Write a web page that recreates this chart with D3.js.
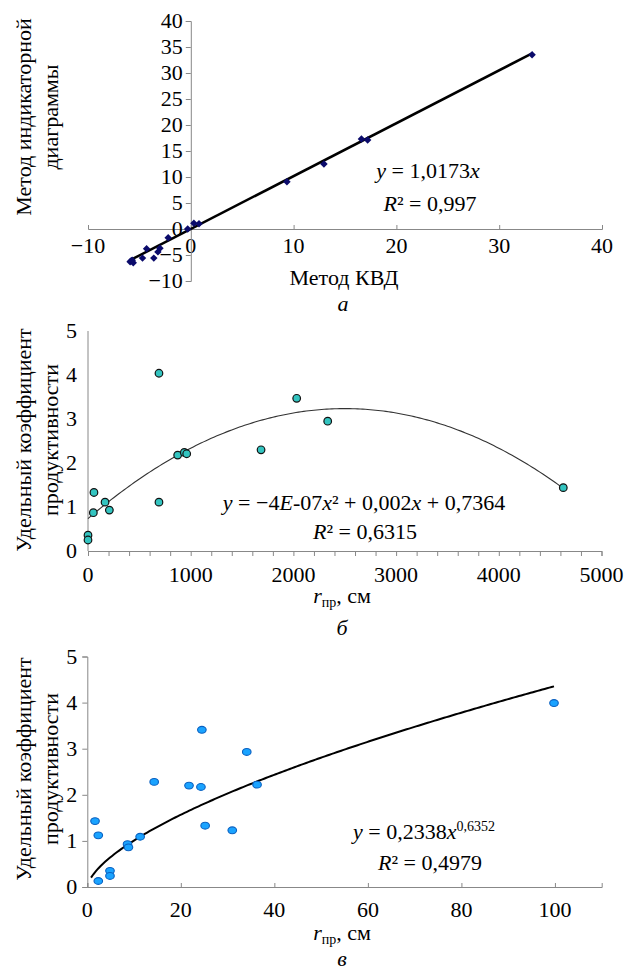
<!DOCTYPE html>
<html>
<head>
<meta charset="utf-8">
<script src="https://cdn.jsdelivr.net/npm/d3@7"></script>
<style>
  body { margin: 0; background: #fff; }
  text { font-family: "Liberation Serif", "Times New Roman", serif; fill: #000; }
</style>
</head>
<body>
<div id="chart"></div>
<script>
// panel a: КВД vs индикаторная диаграмма
const aX = [33.2, 16.6, 17.2, 12.95, 9.35, 0.3, 0.8, -0.3, -2.2, -3.0, -3.2, -3.6, -4.3, -4.7, -5.9, -5.6, -5.8, -5.7];
const aY = [33.5, 17.3, 17.1, 12.5, 9.1, 1.1, 1.0, 0.0, -1.7, -3.7, -4.4, -5.6, -3.8, -5.6, -6.3, -6.5, -6.1, -6.0];
const aSlope = 1.0173;
const aTicks = [-10, 0, 10, 20, 30, 40];
const aYTicks = [-10, -5, 0, 5, 10, 15, 20, 25, 30, 35, 40];

// panel b: r_пр (0..5000)
const bX = [691, 2032, 58, 52, 166, 208, 0, 0, 691, 873, 938, 961, 1685, 2334, 4628];
const bY = [4.04, 3.47, 1.33, 0.87, 1.11, 0.93, 0.36, 0.25, 1.11, 2.18, 2.24, 2.21, 2.30, 2.95, 1.44];
const bPoly = [0.7364, 0.002, -4e-7]; // c0 + c1*x + c2*x^2
const bTicks = [0, 1000, 2000, 3000, 4000, 5000];
const bYTicks = [0, 1, 2, 3, 4, 5];

// panel c: r_пр (0..110)
const cX = [1.65, 2.35, 2.35, 4.85, 4.85, 8.6, 8.8, 11.3, 14.3, 21.75, 24.3, 24.5, 25.2, 31.0, 34.1, 36.3, 99.8];
const cY = [1.43, 1.12, 0.13, 0.35, 0.24, 0.93, 0.86, 1.09, 2.28, 2.20, 2.17, 3.41, 1.33, 1.23, 2.93, 2.22, 3.99];
const cPow = [0.2338, 0.6352]; // a * x^b
const cTicks = [0, 20, 40, 60, 80, 100];
const cYTicks = [0, 1, 2, 3, 4, 5];

const FS = "22px";
const svg = d3.select("#chart").append("svg")
  .attr("width", 627)
  .attr("height", 970);

const axisColor = "#888";

function yTitle(lines, cx, cy) {
  lines.forEach(function(t, i) {
    svg.append("text")
      .attr("transform", "translate(" + (cx[i]) + "," + cy + ") rotate(-90)")
      .attr("text-anchor", "middle")
      .attr("dy", "0.35em")
      .style("font-size", FS)
      .text(t);
  });
}

// r_пр, см
function rTitle(x, y) {
  const t = svg.append("text")
    .attr("x", x).attr("y", y)
    .attr("text-anchor", "middle")
    .style("font-size", FS);
  t.append("tspan").style("font-style", "italic").text("r");
  t.append("tspan").attr("dy", 4).style("font-size", "14px").text("пр");
  t.append("tspan").attr("dy", -4).text(", см");
}

function letter(s, x, y) {
  svg.append("text")
    .attr("x", x).attr("y", y)
    .attr("text-anchor", "middle")
    .style("font-size", FS)
    .style("font-style", "italic")
    .text(s);
}

/* ---------- panel a ---------- */
{
  const x = d3.scaleLinear().domain([-10, 40]).range([88, 602]);
  const y = d3.scaleLinear().domain([-10, 40]).range([281, 21]);
  const g = svg.append("g");

  // x axis through y=0, ticks pointing up
  const xa = g.append("g")
    .attr("transform", "translate(0," + y(0) + ")")
    .call(d3.axisTop(x).tickValues(aTicks).tickSize(4).tickFormat(""));
  xa.selectAll("path, line").attr("stroke", axisColor);
  g.selectAll(".xl").data(aTicks).enter().append("text")
    .attr("x", d => x(d)).attr("y", y(0) + 24)
    .attr("text-anchor", "middle")
    .style("font-size", FS)
    .text(d => d < 0 ? "\u2212" + Math.abs(d) : d);

  const ya = g.append("g")
    .attr("transform", "translate(" + x(0) + ",0)")
    .call(d3.axisLeft(y).tickValues(aYTicks).tickSize(5).tickFormat(""));
  ya.selectAll("path, line").attr("stroke", axisColor);
  g.selectAll(".yl").data(aYTicks).enter().append("text")
    .attr("x", x(0) - 8).attr("y", d => y(d) + 7)
    .attr("text-anchor", "end")
    .style("font-size", FS)
    .text(d => d < 0 ? "\u2212" + Math.abs(d) : d);

  // trend line y = k x
  const ext = d3.extent(aX);
  g.append("line")
    .attr("x1", x(ext[0])).attr("y1", y(aSlope * ext[0]))
    .attr("x2", x(ext[1])).attr("y2", y(aSlope * ext[1]))
    .attr("stroke", "#000").attr("stroke-width", 2.5);

  g.selectAll(".pt").data(aX).enter().append("path")
    .attr("d", d3.symbol().type(d3.symbolSquare).size(28))
    .attr("transform", (d, i) => "translate(" + x(d) + "," + y(aY[i]) + ") rotate(45)")
    .attr("fill", "#0b0b6b");

  const eq = g.append("text").attr("x", 428).attr("y", 178).attr("text-anchor", "middle").style("font-size", FS);
  eq.append("tspan").style("font-style", "italic").text("y");
  eq.append("tspan").text(" = 1,0173");
  eq.append("tspan").style("font-style", "italic").text("x");
  const r2 = g.append("text").attr("x", 430).attr("y", 211).attr("text-anchor", "middle").style("font-size", FS);
  r2.append("tspan").style("font-style", "italic").text("R");
  r2.append("tspan").text("\u00b2 = 0,997");

  svg.append("text").attr("x", 344).attr("y", 285).attr("text-anchor", "middle")
    .style("font-size", FS).text("Метод КВД");
  letter("а", 343, 311);
  yTitle(["Метод индикаторной", "диаграммы"], [23, 50], 117);
}

/* ---------- panel b ---------- */
{
  const x = d3.scaleLinear().domain([0, 5000]).range([88, 601.5]);
  const y = d3.scaleLinear().domain([0, 5]).range([551, 331]);
  const g = svg.append("g");

  const xa = g.append("g")
    .attr("transform", "translate(0," + y(0) + ")")
    .call(d3.axisBottom(x).tickValues(d3.range(0, 5001, 200)).tickSize(5).tickFormat(""));
  xa.selectAll("path, line").attr("stroke", axisColor);
  g.selectAll(".xl").data(bTicks).enter().append("text")
    .attr("x", d => x(d)).attr("y", y(0) + 31)
    .attr("text-anchor", "middle")
    .style("font-size", FS)
    .text(d => d);

  g.append("line")
    .attr("x1", x(0)).attr("x2", x(0)).attr("y1", y(0)).attr("y2", y(5))
    .attr("stroke", axisColor);
  g.selectAll(".yl").data(bYTicks).enter().append("text")
    .attr("x", x(0) - 11).attr("y", d => y(d) + 7)
    .attr("text-anchor", "end")
    .style("font-size", FS)
    .text(d => d);

  // polynomial trend from the shown equation
  const xs = d3.range(0, d3.max(bX) + 1, 25);
  const line = d3.line()
    .x(d => x(d))
    .y(d => y(bPoly[0] + bPoly[1] * d + bPoly[2] * d * d));
  g.append("path").datum(xs.concat([d3.max(bX)]))
    .attr("d", line)
    .attr("fill", "none").attr("stroke", "#333").attr("stroke-width", 1.1);

  g.selectAll(".pt").data(bX).enter().append("circle")
    .attr("cx", d => x(d)).attr("cy", (d, i) => y(bY[i]))
    .attr("r", 3.8)
    .attr("fill", "#33c4c0").attr("stroke", "#111").attr("stroke-width", 1.2);

  const eq = g.append("text").attr("x", 364).attr("y", 510).attr("text-anchor", "middle").style("font-size", FS);
  eq.append("tspan").style("font-style", "italic").text("y");
  eq.append("tspan").text(" = \u22124");
  eq.append("tspan").style("font-style", "italic").text("E");
  eq.append("tspan").text("-07");
  eq.append("tspan").style("font-style", "italic").text("x");
  eq.append("tspan").text("\u00b2 + 0,002");
  eq.append("tspan").style("font-style", "italic").text("x");
  eq.append("tspan").text(" + 0,7364");
  const r2 = g.append("text").attr("x", 365).attr("y", 539).attr("text-anchor", "middle").style("font-size", FS);
  r2.append("tspan").style("font-style", "italic").text("R");
  r2.append("tspan").text("\u00b2 = 0,6315");

  rTitle(342, 603);
  letter("б", 342, 635);
  yTitle(["Удельный коэффициент", "продуктивности"], [23, 50], 440);
}

/* ---------- panel c ---------- */
{
  const x = d3.scaleLinear().domain([0, 110]).range([87.3, 601.7]);
  const y = d3.scaleLinear().domain([0, 5]).range([887, 656.5]);
  const g = svg.append("g");

  const xa = g.append("g")
    .attr("transform", "translate(0," + y(0) + ")")
    .call(d3.axisTop(x).tickValues(cTicks).tickSize(4).tickFormat(""));
  xa.selectAll("path, line").attr("stroke", axisColor);
  g.selectAll(".xl").data(cTicks).enter().append("text")
    .attr("x", d => x(d)).attr("y", y(0) + 30)
    .attr("text-anchor", "middle")
    .style("font-size", FS)
    .text(d => d);

  const ya = g.append("g")
    .attr("transform", "translate(" + x(0) + ",0)")
    .call(d3.axisLeft(y).tickValues(cYTicks).tickSize(5).tickFormat(""));
  ya.selectAll("path, line").attr("stroke", axisColor);
  g.selectAll(".yl").data(cYTicks).enter().append("text")
    .attr("x", x(0) - 10).attr("y", d => y(d) + 7)
    .attr("text-anchor", "end")
    .style("font-size", FS)
    .text(d => d);

  // power trend from the shown equation
  const xs = d3.range(0.8, 100.01, 0.5);
  const line = d3.line()
    .x(d => x(d))
    .y(d => y(cPow[0] * Math.pow(d, cPow[1])));
  g.append("path").datum(xs)
    .attr("d", line)
    .attr("fill", "none").attr("stroke", "#000").attr("stroke-width", 2);

  g.selectAll(".pt").data(cX).enter().append("ellipse")
    .attr("cx", d => x(d)).attr("cy", (d, i) => y(cY[i]))
    .attr("rx", 4.3).attr("ry", 3.4)
    .attr("fill", "#1aa3ff").attr("stroke", "#0a60c0").attr("stroke-width", 1.1);

  const eq = g.append("text").attr("x", 424).attr("y", 839).attr("text-anchor", "middle").style("font-size", FS);
  eq.append("tspan").style("font-style", "italic").text("y");
  eq.append("tspan").text(" = 0,2338");
  eq.append("tspan").style("font-style", "italic").text("x");
  eq.append("tspan").attr("dy", -8).style("font-size", "14px").text("0,6352");
  const r2 = g.append("text").attr("x", 430).attr("y", 870).attr("text-anchor", "middle").style("font-size", FS);
  r2.append("tspan").style("font-style", "italic").text("R");
  r2.append("tspan").text("\u00b2 = 0,4979");

  rTitle(342, 940);
  letter("в", 342, 966);
  yTitle(["Удельный коэффициент", "продуктивности"], [23, 50], 769);
}
</script>
</body>
</html>
